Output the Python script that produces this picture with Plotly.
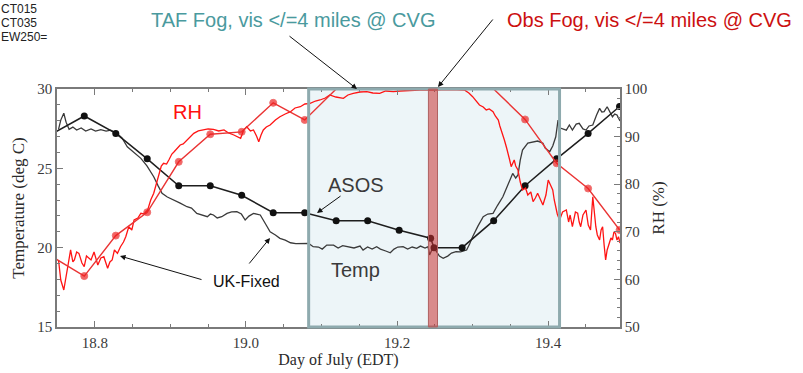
import plotly.graph_objects as go

# ---------------- data ----------------
# ASOS hourly observations (plus one special obs), day of July (EDT)
asos_day = [18.7444, 18.7861, 18.8278, 18.8694, 18.9111, 18.9528, 18.9944, 19.0361,
            19.0778, 19.1194, 19.1611, 19.2028, 19.2444, 19.2489, 19.2861, 19.3278,
            19.3694, 19.4111, 19.4528, 19.4944]
asos_temp = [27.2, 28.3, 27.2, 25.6, 23.9, 23.9, 23.3, 22.2, 22.2, 21.7, 21.7, 21.1,
             20.6, 20.0, 20.0, 21.7, 23.9, 25.6, 27.2, 28.9]
asos_rh = [64.7, 60.7, 69.2, 74.1, 84.7, 90.5, 91.0, 97.1, 93.5, 100, 100, 100,
           100, 100, 100, 100, 93.6, 84.4, 79.1, 70.4]

# UK-Fixed temperature
temp_day = [18.752, 18.755, 18.759, 18.762, 18.766, 18.771, 18.776, 18.782, 18.788, 18.795,
            18.801, 18.808, 18.815, 18.821, 18.829, 18.836, 18.843, 18.851, 18.861, 18.869,
            18.878, 18.884, 18.889, 18.896, 18.905, 18.913, 18.922, 18.928, 18.935, 18.941,
            18.949, 18.953, 18.957, 18.962, 18.968, 18.975, 18.981, 18.988, 18.994, 18.999,
            19.004, 19.010, 19.015, 19.019, 19.026, 19.032, 19.039, 19.045, 19.052, 19.059,
            19.066, 19.076, 19.083, 19.089, 19.096, 19.101, 19.107, 19.116, 19.122, 19.128,
            19.138, 19.143, 19.151, 19.155, 19.161, 19.167, 19.173, 19.178, 19.185, 19.191,
            19.196, 19.201, 19.208, 19.214, 19.220, 19.226, 19.231, 19.237, 19.241, 19.243,
            19.248, 19.253, 19.256, 19.261, 19.267, 19.272, 19.278, 19.284, 19.292, 19.296,
            19.300, 19.307, 19.314, 19.320, 19.327, 19.333, 19.340, 19.346, 19.353, 19.357,
            19.360, 19.363, 19.366, 19.373, 19.380, 19.386, 19.393, 19.396, 19.402, 19.406,
            19.410, 19.413, 19.416, 19.424, 19.428, 19.432, 19.437, 19.441, 19.446, 19.450,
            19.454, 19.459, 19.464, 19.468, 19.471, 19.474, 19.478, 19.482, 19.485, 19.488,
            19.491, 19.495]
temp_val = [27.46, 28.04, 28.47, 27.91, 27.46, 27.60, 27.41, 27.54, 27.35, 27.48,
            27.35, 27.44, 27.35, 27.41, 27.22, 26.91, 26.36, 26.03, 25.63, 25.15,
            24.47, 23.88, 23.42, 23.19, 23.00, 22.81, 22.58, 22.50, 22.16, 22.06,
            21.95, 22.12, 22.06, 21.87, 21.95, 22.16, 22.25, 22.27, 22.12, 21.74,
            21.99, 22.16, 22.12, 22.06, 21.49, 21.00, 20.80, 20.59, 20.48, 20.31,
            20.26, 20.27, 20.27, 20.06, 20.04, 19.91, 20.16, 20.16, 19.98, 20.13,
            20.06, 19.98, 20.10, 19.85, 20.04, 19.91, 20.06, 19.91, 19.79, 19.68,
            19.91, 20.04, 20.06, 19.91, 20.04, 19.96, 20.10, 19.98, 20.06, 19.54,
            20.06, 19.73, 19.47, 19.33, 19.47, 19.66, 19.75, 19.73, 19.85, 20.23,
            20.69, 21.36, 21.95, 22.12, 22.16, 22.67, 23.21, 23.88, 24.68, 24.39,
            24.58, 25.52, 26.15, 26.59, 26.68, 26.72, 26.58, 26.28, 26.05, 26.41,
            26.99, 28.04, 27.54, 27.41, 27.73, 27.41, 27.79, 27.84, 27.48, 27.41,
            27.67, 27.73, 28.36, 28.78, 28.55, 28.57, 28.88, 28.48, 28.25, 28.42,
            28.36, 27.98]

# UK-Fixed relative humidity
rh_day = [18.752, 18.755, 18.759, 18.762, 18.764, 18.766, 18.768, 18.771, 18.773, 18.776,
          18.779, 18.783, 18.786, 18.789, 18.795, 18.799, 18.804, 18.808, 18.812, 18.817,
          18.820, 18.823, 18.826, 18.830, 18.834, 18.838, 18.841, 18.845, 18.849, 18.852,
          18.857, 18.861, 18.865, 18.870, 18.874, 18.878, 18.882, 18.885, 18.888, 18.891,
          18.895, 18.898, 18.902, 18.905, 18.910, 18.913, 18.917, 18.922, 18.927, 18.931,
          18.937, 18.944, 18.950, 18.957, 18.964, 18.971, 18.977, 18.984, 18.989, 18.993,
          18.997, 19.001, 19.006, 19.010, 19.014, 19.017, 19.020, 19.023, 19.027, 19.032,
          19.039, 19.045, 19.052, 19.059, 19.065, 19.072, 19.078, 19.085, 19.092, 19.098,
          19.105, 19.111, 19.119, 19.129, 19.135, 19.142, 19.151, 19.160, 19.168, 19.177,
          19.185, 19.195, 19.204, 19.213, 19.221, 19.230, 19.248, 19.270, 19.289, 19.295,
          19.300, 19.305, 19.309, 19.314, 19.318, 19.322, 19.327, 19.330, 19.334, 19.336,
          19.338, 19.340, 19.342, 19.345, 19.347, 19.349, 19.351, 19.353, 19.355, 19.357,
          19.360, 19.363, 19.366, 19.370, 19.373, 19.377, 19.380, 19.383, 19.386, 19.390,
          19.393, 19.397, 19.400, 19.403, 19.406, 19.408, 19.410, 19.412, 19.415, 19.419,
          19.424, 19.427, 19.429, 19.432, 19.436, 19.439, 19.441, 19.443, 19.446, 19.450,
          19.453, 19.456, 19.459, 19.461, 19.463, 19.465, 19.468, 19.470, 19.472, 19.474,
          19.476, 19.478, 19.481, 19.483, 19.485, 19.487, 19.489, 19.491, 19.493, 19.495]
rh_val = [64.08, 59.87, 57.77, 60.92, 62.67, 65.13, 66.18, 63.66, 64.08, 65.76,
          65.48, 63.45, 62.67, 64.92, 64.08, 65.76, 63.03, 64.50, 64.77, 62.33,
          63.66, 64.08, 66.18, 65.48, 66.87, 67.86, 68.97, 71.07, 70.38, 72.48,
          72.90, 73.89, 73.74, 74.58, 76.68, 78.09, 80.46, 82.29, 83.82, 84.39,
          84.24, 85.08, 86.34, 86.83, 87.61, 88.24, 88.45, 89.29, 89.92, 90.69,
          91.18, 91.39, 91.60, 91.53, 91.18, 91.39, 90.76, 90.34, 89.92, 89.64,
          91.39, 92.08, 91.18, 91.39, 90.13, 88.93, 90.34, 91.39, 92.02, 92.44,
          93.49, 94.18, 94.75, 95.23, 96.01, 96.28, 96.85, 96.99, 97.48, 97.69,
          98.11, 98.74, 98.32, 98.05, 98.74, 99.10, 99.37, 99.43, 99.16, 99.10,
          99.58, 99.43, 99.58, 99.64, 99.79, 99.79, 99.79, 99.89, 99.79, 99.16,
          98.38, 97.48, 96.64, 96.22, 95.59, 95.80, 95.23, 94.33, 93.49, 92.23,
          91.39, 90.55, 89.29, 87.61, 86.49, 85.08, 83.68, 84.45, 85.08, 83.82,
          82.98, 80.46, 78.78, 79.20, 77.73, 78.36, 76.32, 77.10, 78.09, 76.68,
          75.63, 77.73, 80.88, 79.83, 78.78, 76.68, 75.27, 73.74, 72.48, 74.16,
          74.58, 72.06, 73.53, 71.07, 74.16, 73.89, 72.06, 71.07, 73.53, 74.58,
          71.43, 70.38, 77.37, 73.53, 71.07, 69.33, 68.28, 70.38, 71.07, 67.23,
          64.08, 66.18, 67.58, 68.70, 68.28, 69.96, 69.68, 68.28, 68.97, 67.65]

taf_fog_period = [19.083, 19.415]
obs_fog_period = [19.2415, 19.2535]

x_range = [18.75, 19.495]
temp_range = [15, 30]
rh_range = [50, 100]

# ---------------- figure ----------------
W, H = 803, 373
L, R, T, B = 57, 620, 89, 327

def P(px, py):
    return (px - L) / (R - L), (B - py) / (B - T)

fig = go.Figure()

fig.add_trace(go.Scatter(x=temp_day, y=temp_val, mode="lines",
                         line=dict(color="#3a3a3a", width=1.3), name="Temp (UK-Fixed)"))
fig.add_trace(go.Scatter(x=asos_day, y=asos_temp, mode="lines+markers",
                         line=dict(color="#1e1e1e", width=1.5),
                         marker=dict(color="#111111", size=7), name="Temp (ASOS)"))
fig.add_trace(go.Scatter(x=rh_day, y=rh_val, mode="lines", yaxis="y2",
                         line=dict(color="#ff1414", width=1.3), name="RH (UK-Fixed)"))
rh_marker_sizes = [0 if v >= 100 else 7 for v in asos_rh]
fig.add_trace(go.Scatter(x=asos_day, y=asos_rh, mode="lines+markers", yaxis="y2",
                         line=dict(color="#ea3434", width=1.4),
                         marker=dict(color="#ee2222", size=rh_marker_sizes), name="RH (ASOS)"))

axcol = "#7a7a7a"
tickfont = dict(family="Liberation Serif", size=15, color="#3a3a3a")

fig.update_layout(
    width=W, height=H,
    margin=dict(l=L, r=W - R, t=T, b=H - B, autoexpand=False),
    plot_bgcolor="white", paper_bgcolor="white",
    showlegend=False,
    xaxis=dict(range=x_range, tick0=18.8, dtick=0.2, tickformat=".1f",
               ticks="inside", ticklen=6, tickcolor=axcol, tickwidth=1,
               showline=True, linecolor=axcol, linewidth=1.5, mirror="ticks",
               showgrid=False, zeroline=False, tickfont=tickfont, ticklabelstandoff=1,
               automargin=False,
               minor=dict(tick0=18.8, dtick=0.05, ticks="inside", ticklen=3, tickcolor=axcol),
               title=dict(text="Day of July (EDT)", standoff=3,
                          font=dict(family="Liberation Serif", size=16, color="#2a2a2a"))),
    yaxis=dict(range=temp_range, dtick=5, ticks="inside", ticklen=6, tickcolor=axcol,
               showline=True, linecolor=axcol, linewidth=1.5, automargin=False,
               showgrid=False, zeroline=False, tickfont=tickfont,
               minor=dict(dtick=1, ticks="inside", ticklen=3, tickcolor=axcol),
               title=dict(text="Temperature (deg C)", standoff=8,
                          font=dict(family="Liberation Serif", size=17, color="#2a2a2a"))),
    yaxis2=dict(range=rh_range, dtick=10, overlaying="y", side="right",
                ticks="inside", ticklen=6, tickcolor=axcol, automargin=False,
                showline=True, linecolor=axcol, linewidth=1.5,
                showgrid=False, zeroline=False, tickfont=tickfont,
                minor=dict(dtick=2, ticks="inside", ticklen=3, tickcolor=axcol),
                title=dict(text="RH (%)", standoff=6,
                           font=dict(family="Liberation Serif", size=17, color="#2a2a2a"))),
)

# TAF fog period (shaded box) and observed fog (red bar)
fig.add_shape(type="rect", xref="x", yref="paper", x0=taf_fog_period[0], x1=taf_fog_period[1],
              y0=0, y1=1, fillcolor="#edf5f8", line=dict(width=0), layer="below")
fig.add_shape(type="rect", xref="x", yref="paper", x0=taf_fog_period[0], x1=taf_fog_period[1],
              y0=0, y1=1, fillcolor="rgba(0,0,0,0)", line=dict(color="#8eaaae", width=3), layer="above")
fig.add_shape(type="rect", xref="x", yref="paper", x0=obs_fog_period[0], x1=obs_fog_period[1],
              y0=0, y1=1, fillcolor="rgba(200,50,50,0.55)", line=dict(color="#b06262", width=1),
              layer="above")

sans = "Liberation Sans"

def text_ann(txt, px, py, size, color, xanchor="center"):
    x, y = P(px, py)
    fig.add_annotation(text=txt, x=x, y=y, xref="paper", yref="paper", showarrow=False,
                       xanchor=xanchor, yanchor="middle",
                       font=dict(family=sans, size=size, color=color))

def arrow(tail, tip):
    x, y = P(*tip)
    fig.add_annotation(text="", x=x, y=y, xref="paper", yref="paper", showarrow=True,
                       ax=tail[0] - tip[0], ay=tail[1] - tip[1],
                       arrowhead=2, arrowsize=1.1, arrowwidth=1, arrowcolor="#111111",
                       standoff=0, startstandoff=0)

text_ann("TAF Fog, vis &lt;/=4 miles @ CVG", 293, 20, 20, "#4a9a9e")
text_ann("Obs Fog, vis &lt;/=4 miles @ CVG", 649, 20, 20, "#cc1010")
text_ann("CT015", -1, 8.5, 12, "#222222", xanchor="left")
text_ann("CT035", -1, 22.5, 12, "#222222", xanchor="left")
text_ann("EW250=", -1, 37, 12, "#222222", xanchor="left")
text_ann("RH", 187, 112, 20, "#ff1010")
text_ann("ASOS", 356, 185, 20, "#3a3a3a")
text_ann("Temp", 355, 270, 20, "#3a3a3a")
text_ann("UK-Fixed", 246, 281, 16, "#111111")

arrow((288, 35), (357, 89))
arrow((494, 18), (438, 87))
arrow((203, 280), (120, 256))
arrow((248, 265), (270, 238))
arrow((342, 195), (317, 213))

fig.write_html("out.html")
